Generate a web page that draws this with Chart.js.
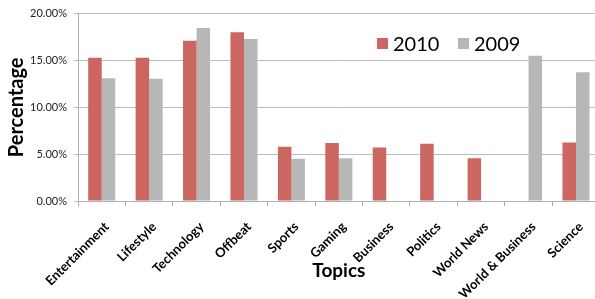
<!DOCTYPE html>
<html>
<head>
<meta charset="utf-8">
<script src="https://cdn.jsdelivr.net/npm/chart.js@4"></script>
<style>
html,body{margin:0;padding:0;background:#fff;overflow:hidden;width:595px;height:299px;}
canvas{display:block;}
</style>
</head>
<body>
<canvas id="c" width="600" height="299" style="width:600px;height:299px"></canvas>
<script>
const categories = ["Entertainment","Lifestyle","Technology","Offbeat","Sports","Gaming","Business","Politics","World News","World & Business","Science"];
const values2010 = [15.3, 15.3, 17.1, 18.0, 5.8, 6.2, 5.7, 6.1, 4.55, null, 6.25];
const values2009 = [13.1, 13.05, 18.45, 17.3, 4.5, 4.55, null, null, null, 15.5, 13.75];
const yTicks = [0, 5, 10, 15, 20];
const seriesNames = ["2010", "2009"];
const colors = ["#CC6660", "#B7B7B7"];

const FONT = "Lato, 'Open Sans', sans-serif";

const legendPlugin = {
  id: 'insideLegend',
  afterDraw(chart) {
    const ctx = chart.ctx;
    ctx.save();
    const bx = 353, by = 30, bw = 170, bh = 30;
    ctx.fillStyle = '#fff';
    ctx.fillRect(bx, by, bw, bh);
    ctx.font = "20px " + FONT;
    ctx.textBaseline = 'middle';
    let x = 377;
    const cy = 44;
    chart.data.datasets.forEach((ds, i) => {
      ctx.fillStyle = ds.backgroundColor;
      ctx.fillRect(x, cy - 6, 11, 11);
      ctx.fillStyle = '#000';
      ctx.textAlign = 'left';
      ctx.fillText(ds.label, x + 16, cy + 1);
      x += 81;
    });
    ctx.restore();
  }
};

new Chart(document.getElementById('c'), {
  type: 'bar',
  data: {
    labels: categories,
    datasets: [
      { label: seriesNames[0], data: values2010, backgroundColor: colors[0], borderWidth: 0 },
      { label: seriesNames[1], data: values2009, backgroundColor: colors[1], borderWidth: 0 }
    ]
  },
  options: {
    responsive: false,
    animation: false,
    devicePixelRatio: 1,
    layout: { padding: { left: 0, right: 0, top: 9, bottom: 0 } },
    datasets: { bar: { categoryPercentage: 0.57, barPercentage: 1.0 } },
    plugins: { legend: { display: false }, tooltip: { enabled: false } },
    scales: {
      x: {
        grid: { offset: true, drawOnChartArea: false, drawTicks: true, tickLength: 5, color: '#b0b0b0' },
        border: { color: '#b0b0b0', width: 1 },
        ticks: {
          autoSkip: false, minRotation: 45, maxRotation: 45, padding: 13, labelOffset: 5,
          color: '#000', font: { family: FONT, size: 13, weight: 'bold' }
        },
        title: {
          display: true, text: 'Topics', color: '#000',
          font: { family: FONT, size: 19, weight: 'bold' },
          padding: { top: 0, bottom: 17 }
        },
        afterFit(scale) { scale.height = 98; }
      },
      y: {
        min: 0, max: 20,
        afterBuildTicks(scale) { scale.ticks = yTicks.map(v => ({ value: v })); },
        grid: { color: '#bdbdbd', tickLength: 4, drawTicks: true },
        border: { color: '#b0b0b0', width: 1 },
        ticks: {
          padding: 7, color: '#222',
          font: { family: FONT, size: 11 },
          callback: v => v.toFixed(2) + '%'
        },
        title: {
          display: true, text: 'Percentage', color: '#000',
          font: { family: FONT, size: 20, weight: 'bold' },
          padding: { top: 5, bottom: 0 }
        },
        afterFit(scale) { scale.width = 78; }
      }
    }
  },
  plugins: [legendPlugin]
});
</script>
</body>
</html>
